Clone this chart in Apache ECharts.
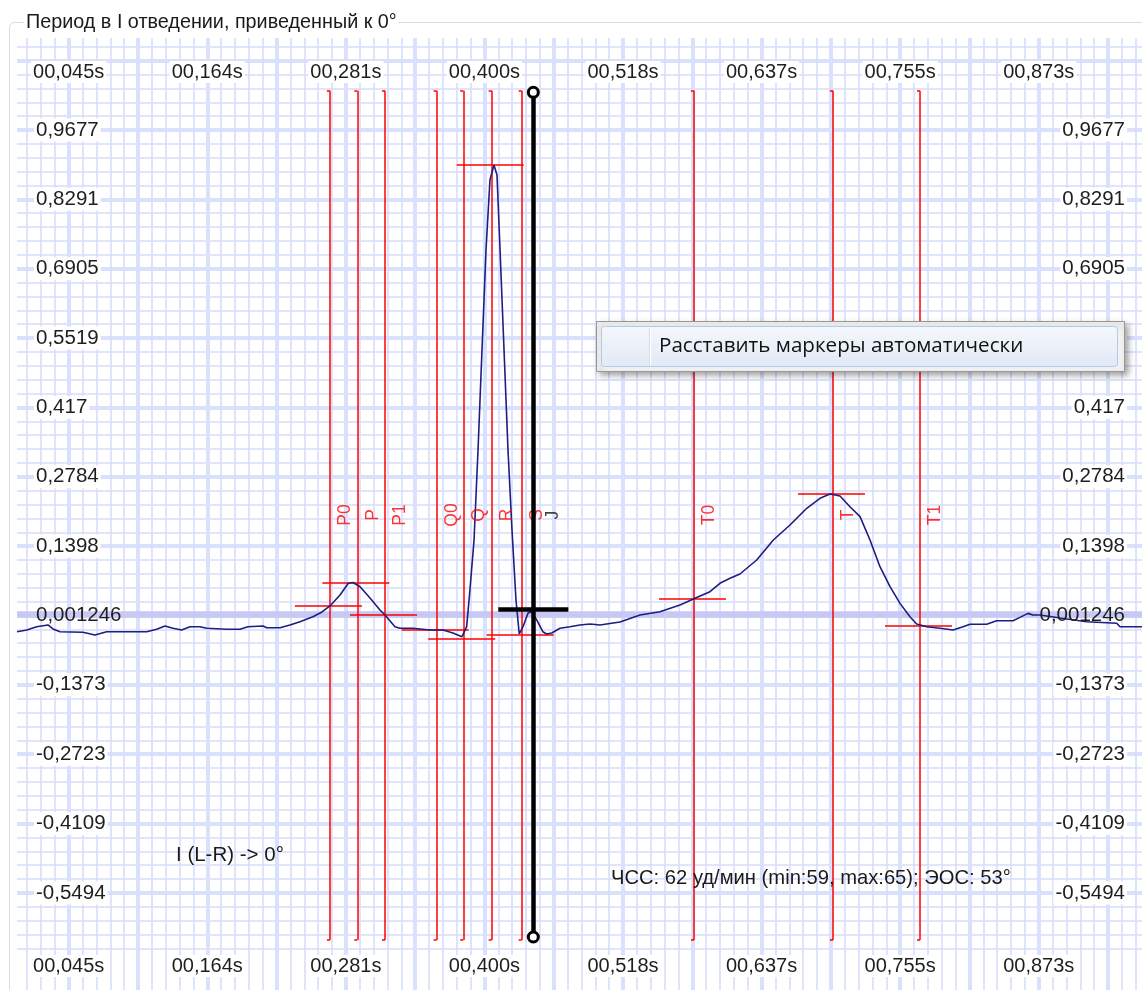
<!DOCTYPE html>
<html><head><meta charset="utf-8">
<script src="https://cdn.jsdelivr.net/npm/echarts@6.0.0/dist/echarts.min.js"></script>
<style>html,body{margin:0;padding:0;background:#fff}#c{width:1142px;height:990px}</style>
</head><body><div id="c"></div>
<script>
// ---------- data ----------
const titleText = 'Период в I отведении, приведенный к 0°';
const menuText = 'Расставить маркеры автоматически';
const noteLead = 'I (L-R) -> 0°';
const noteHeart = 'ЧСС: 62 уд/мин (min:59, max:65); ЭОС: 53°';

const xTickLabels = ['00,045s','00,164s','00,281s','00,400s','00,518s','00,637s','00,755s','00,873s'];
const yTickLabels = ['0,9677','0,8291','0,6905','0,5519','0,417','0,2784','0,1398','0,001246','-0,1373','-0,2723','-0,4109','-0,5494'];

const ecgTime = [0.0009,0.0092,0.0177,0.0273,0.0316,0.0376,0.0572,0.0674,0.0774,0.0999,0.1116,0.1201,0.1272,0.1340,0.1414,0.1485,0.1571,0.1628,0.1799,0.1912,0.1980,0.2109,0.2140,0.2254,0.2339,0.2424,0.2535,0.2612,0.2680,0.2766,0.2837,0.2877,0.2937,0.3022,0.3107,0.3150,0.3235,0.3278,0.3389,0.3534,0.3645,0.3730,0.3807,0.3847,0.3875,0.3910,0.3944,0.3978,0.4012,0.4046,0.4080,0.4106,0.4132,0.4166,0.4200,0.4234,0.4268,0.4296,0.4328,0.4371,0.4402,0.4445,0.4497,0.4530,0.4573,0.4644,0.4729,0.4814,0.4900,0.4985,0.5156,0.5327,0.5497,0.5668,0.5796,0.5924,0.6009,0.6095,0.6180,0.6323,0.6465,0.6607,0.6750,0.6863,0.6949,0.7034,0.7119,0.7205,0.7290,0.7375,0.7461,0.7546,0.7631,0.7688,0.7774,0.7887,0.7999,0.8084,0.8144,0.8286,0.8371,0.8510,0.8570,0.8639,0.8681,0.8741,0.8912,0.9140,0.9396,0.9424,0.9612];
const ecgValue = [-0.0349,-0.0315,-0.0249,-0.0215,-0.0295,-0.0349,-0.0361,-0.0415,-0.0349,-0.0349,-0.0349,-0.0301,-0.0235,-0.0281,-0.0315,-0.0249,-0.0249,-0.0281,-0.0301,-0.0301,-0.0249,-0.0235,-0.0269,-0.0269,-0.0215,-0.0149,-0.0049,0.0045,0.0165,0.0384,0.0618,0.0634,0.0550,0.0325,0.0085,-0.0015,-0.0249,-0.0281,-0.0281,-0.0315,-0.0315,-0.0375,-0.0449,-0.0249,0.0484,0.1484,0.3282,0.5281,0.7279,0.8678,0.8978,0.8778,0.7279,0.5281,0.3282,0.1684,0.0285,-0.0395,-0.0249,0.0025,0.0051,-0.0115,-0.0349,-0.0395,-0.0375,-0.0281,-0.0249,-0.0215,-0.0195,-0.0215,-0.0155,-0.0015,0.0051,0.0185,0.0318,0.0450,0.0618,0.0718,0.0804,0.1084,0.1484,0.1783,0.2117,0.2317,0.2403,0.2363,0.2149,0.1950,0.1484,0.0950,0.0550,0.0217,-0.0049,-0.0195,-0.0249,-0.0281,-0.0315,-0.0249,-0.0201,-0.0201,-0.0131,-0.0131,-0.0063,0.0017,-0.0015,-0.0015,-0.0075,-0.0149,-0.0181,-0.0249,-0.0249];

const markerNames = ['P0','P','P1','Q0','Q','R','S','T0','T','T1'];
const markerTime  = [0.2680,0.2914,0.3150,0.3591,0.3818,0.4061,0.4317,0.5788,0.6974,0.7717];
const markerLevel = [0.0165,0.0638,-0.0015,-0.0315,-0.0495,0.8992,-0.0415,0.0318,0.2403,-0.0229];
const jName = 'J';
const jTime = 0.4416;
const jLevel = 0.0105;
const baselineValue = 0.0005;

// ---------- layout constants ----------
const X_MIN = 0.00087, X_MAX = 0.96118, X_LABEL0 = 0.045, X_LABEL_STEP = 0.11829;
const Y_MIN = -0.75093, Y_MAX = 1.15155, Y_LABEL0 = 0.9677, Y_LABEL_STEP = 0.1386;
const MARK_TOP = 1.0462, MARK_BOTTOM = -0.6510, J_TOP = 1.0430, J_BOTTOM = -0.6450;
const HOOK_DT = 0.0026;
const HL_LEFT = 0.0299, HL_RIGHT = 0.0273, J_HALF = 0.0299;
const LABEL_V = 0.1983, LABEL_DT = 0.0132, J_LABEL_DT = 0.0171;
const FONT = "'Liberation Sans', Arial, sans-serif";

const inX = v => v >= X_MIN && v <= X_MAX;
const inY = v => v >= Y_MIN && v <= Y_MAX;
const xMinor = [], xMajor = [], yMinor = [], yMajor = [];
for (let n = -10; n <= 90; n++) { const v = X_LABEL0 + n * X_LABEL_STEP / 10; if (n % 5 !== 0 && inX(v)) xMinor.push(v); }
for (let m = -2; m <= 18; m++) { const v = X_LABEL0 + m * X_LABEL_STEP / 2; if (inX(v)) xMajor.push(v); }
for (let n = -6; n <= 59; n++) { const v = Y_LABEL0 - n * Y_LABEL_STEP / 5; if (n % 5 !== 0 && inY(v)) yMinor.push(v); }
for (let k = -1; k <= 11; k++) { const v = Y_LABEL0 - k * Y_LABEL_STEP; if (inY(v)) yMajor.push(v); }
const xLabelVals = xTickLabels.map((_, i) => X_LABEL0 + i * X_LABEL_STEP);
const yLabelVals = yTickLabels.map((_, k) => Y_LABEL0 - k * Y_LABEL_STEP);

const MINOR = { color: '#d7ddfb', width: 1.6 };
const MAJOR = { color: '#dae1fc', width: 4 };

const xFmt = v => xTickLabels[Math.round((v - X_LABEL0) / X_LABEL_STEP)] || '';
const yFmt = v => {
  const k = Math.round((Y_LABEL0 - v) / Y_LABEL_STEP);
  const s = yTickLabels[k] || '';
  return k === 7 ? '{b|' + s + '}' : '{w|' + s + '}';
};
const labelCommon = { fontFamily: FONT, fontSize: 20, color: '#1e1e1e' };

function gridAxis(pos, vals, style, isX) {
  return {
    type: 'value', gridIndex: 0, position: pos,
    min: isX ? X_MIN : Y_MIN, max: isX ? X_MAX : Y_MAX,
    axisLine: { show: false }, axisLabel: { show: false },
    axisTick: { show: false, customValues: vals },
    splitLine: { show: true, lineStyle: style }, z: 0
  };
}

const xAxis = [
  gridAxis('bottom', xMinor, MINOR, true),
  gridAxis('bottom', xMajor, MAJOR, true),
  { type: 'value', gridIndex: 0, position: 'top', min: X_MIN, max: X_MAX, z: 5,
    axisLine: { show: false }, splitLine: { show: false },
    axisTick: { show: false, customValues: xLabelVals },
    axisLabel: Object.assign({ show: true, inside: true, margin: 23, customValues: xLabelVals, formatter: xFmt,
      backgroundColor: '#fff', padding: [1, 2], lineHeight: 20 }, labelCommon) },
  { type: 'value', gridIndex: 0, position: 'bottom', min: X_MIN, max: X_MAX, z: 5,
    axisLine: { show: false }, splitLine: { show: false },
    axisTick: { show: false, customValues: xLabelVals },
    axisLabel: Object.assign({ show: true, inside: true, margin: 13, customValues: xLabelVals, formatter: xFmt,
      backgroundColor: '#fff', padding: [1, 2], lineHeight: 20 }, labelCommon) }
];
const richY = { w: { backgroundColor: '#fff', padding: [1, 2], lineHeight: 20 }, b: { padding: [1, 2], lineHeight: 20 } };
const yAxis = [
  gridAxis('left', yMinor, MINOR, false),
  gridAxis('left', yMajor, MAJOR, false),
  { type: 'value', gridIndex: 0, position: 'left', min: Y_MIN, max: Y_MAX, z: 5,
    axisLine: { show: false }, splitLine: { show: false },
    axisTick: { show: false, customValues: yLabelVals },
    axisLabel: Object.assign({ show: true, inside: true, margin: 17, customValues: yLabelVals, formatter: yFmt, rich: richY }, labelCommon, { fontSize: 20.5 }) },
  { type: 'value', gridIndex: 0, position: 'right', min: Y_MIN, max: Y_MAX, z: 5,
    axisLine: { show: false }, splitLine: { show: false },
    axisTick: { show: false, customValues: yLabelVals },
    axisLabel: Object.assign({ show: true, inside: true, margin: 15, customValues: yLabelVals, formatter: yFmt, rich: richY }, labelCommon, { fontSize: 20.5 }) }
];

const RED = '#ff0000';
const redSegments = []
  .concat(markerTime.map(t => ({ coords: [[t, MARK_TOP], [t, MARK_BOTTOM]] })))
  .concat(markerTime.map(t => ({ coords: [[t - HOOK_DT, MARK_TOP], [t, MARK_TOP]] })))
  .concat(markerTime.map(t => ({ coords: [[t - HOOK_DT, MARK_BOTTOM], [t, MARK_BOTTOM]] })))
  .concat(markerTime.map((t, i) => ({ coords: [[t - HL_LEFT, markerLevel[i]], [t + HL_RIGHT, markerLevel[i]]] })));

const series = [
  { type: 'lines', coordinateSystem: 'cartesian2d', xAxisIndex: 0, yAxisIndex: 0, z: 1, silent: true,
    lineStyle: { color: '#c7c9f3', width: 6.5, opacity: 1 },
    data: [{ coords: [[X_MIN, baselineValue], [X_MAX, baselineValue]] }] },
  { type: 'lines', coordinateSystem: 'cartesian2d', xAxisIndex: 0, yAxisIndex: 0, z: 2, silent: true,
    lineStyle: { color: RED, width: 1.5, opacity: 1 },
    data: redSegments },
  { type: 'line', xAxisIndex: 0, yAxisIndex: 0, z: 3, showSymbol: false, silent: true,
    lineStyle: { color: '#1d1d82', width: 1.6 },
    data: ecgTime.map((t, i) => [t, ecgValue[i]]) },
  { type: 'scatter', xAxisIndex: 0, yAxisIndex: 0, z: 4, symbolSize: 1, silent: true,
    itemStyle: { color: 'rgba(0,0,0,0)' },
    label: { show: true, position: 'inside', rotate: 90, formatter: '{b}', color: RED, fontSize: 17.5, fontFamily: FONT },
    data: markerTime.map((t, i) => ({ name: markerNames[i], value: [t + LABEL_DT, LABEL_V] })) },
  { type: 'scatter', xAxisIndex: 0, yAxisIndex: 0, z: 4, symbolSize: 1, silent: true,
    itemStyle: { color: 'rgba(0,0,0,0)' },
    label: { show: true, position: 'inside', rotate: 90, formatter: '{b}', color: '#111', fontSize: 17.5, fontFamily: FONT },
    data: [{ name: jName, value: [jTime + J_LABEL_DT, LABEL_V] }] },
  { type: 'lines', coordinateSystem: 'cartesian2d', xAxisIndex: 0, yAxisIndex: 0, z: 6, silent: true,
    lineStyle: { color: '#000', width: 4.5, opacity: 1 },
    data: [{ coords: [[jTime, J_TOP], [jTime, J_BOTTOM]] }, { coords: [[jTime - J_HALF, jLevel], [jTime + J_HALF, jLevel]] }] },
  { type: 'scatter', xAxisIndex: 0, yAxisIndex: 0, z: 7, symbol: 'circle', symbolSize: 10, silent: true,
    itemStyle: { color: '#fff', borderColor: '#000', borderWidth: 3, opacity: 1 },
    data: [[jTime, J_TOP], [jTime, J_BOTTOM]] }
];

const graphic = [
  { type: 'rect', z: 50, silent: true, shape: { x: 9.5, y: 22.5, width: 1200, height: 1000, r: 5 },
    style: { fill: 'none', stroke: '#d3dce3', lineWidth: 1 } },
  { type: 'text', z: 51, silent: true, x: 24, y: 23,
    style: { text: titleText, fontSize: 19.8, fontFamily: FONT, fill: '#1a1a1a', verticalAlign: 'middle', backgroundColor: '#fff', padding: [0, 2] } },
  { type: 'text', z: 51, silent: true, x: 176, y: 855,
    style: { text: noteLead, fontSize: 20.5, fontFamily: FONT, fill: '#1a1a1a', verticalAlign: 'middle' } },
  { type: 'text', z: 51, silent: true, x: 611, y: 878,
    style: { text: noteHeart, fontSize: 20.2, fontFamily: FONT, fill: '#1a1a1a', verticalAlign: 'middle' } },
  { type: 'group', z: 100, silent: true, children: [
    { type: 'rect', z: 100, shape: { x: 596.5, y: 321.5, width: 528, height: 50 },
      style: { fill: '#f2f2f2', stroke: '#979797', lineWidth: 1, shadowBlur: 6, shadowOffsetX: 3, shadowOffsetY: 3, shadowColor: 'rgba(0,0,0,0.35)' } },
    { type: 'rect', z: 101, shape: { x: 601.5, y: 326.5, width: 516, height: 40, r: 3 },
      style: { stroke: '#aecbee', lineWidth: 1,
        fill: { type: 'linear', x: 0, y: 0, x2: 0, y2: 1, colorStops: [{ offset: 0, color: '#f4f7fc' }, { offset: 1, color: '#e2e9f5' }] } } },
    { type: 'line', z: 102, shape: { x1: 649.5, y1: 328, x2: 649.5, y2: 365 }, style: { stroke: '#d9dde3', lineWidth: 1 } },
    { type: 'line', z: 102, shape: { x1: 650.5, y1: 328, x2: 650.5, y2: 365 }, style: { stroke: '#ffffff', lineWidth: 1 } },
    { type: 'text', z: 103, x: 659, y: 346,
      style: { text: menuText, fontSize: 20.6, fontFamily: "'Open Sans', 'Noto Sans', sans-serif", fill: '#111', verticalAlign: 'middle' } }
  ] }
];

const chart = echarts.init(document.getElementById('c'), null, { renderer: 'canvas' });
chart.setOption({
  animation: false,
  backgroundColor: '#fff',
  grid: { left: 17, top: 38, right: 0, bottom: 0, containLabel: false, outerBoundsMode: 'none' },
  xAxis, yAxis, series, graphic
});
</script></body></html>
